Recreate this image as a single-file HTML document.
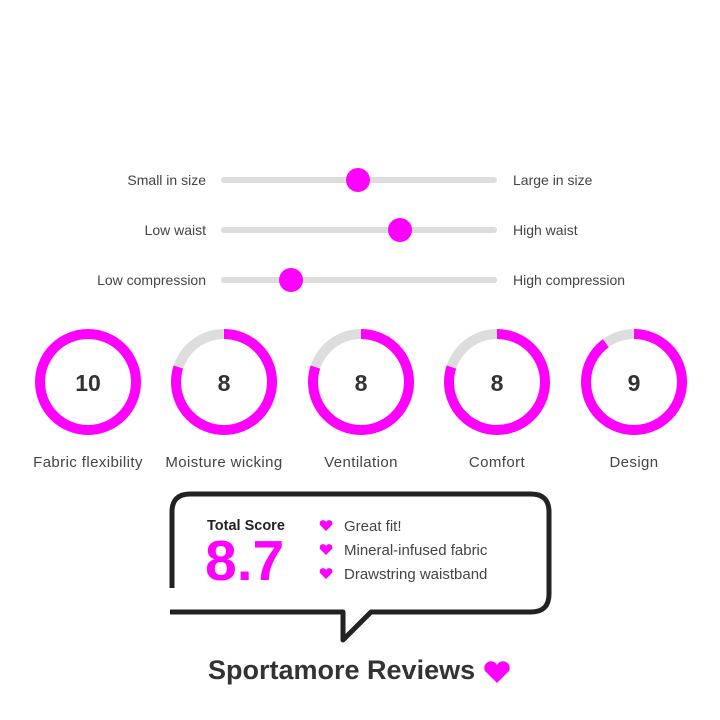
<!DOCTYPE html>
<html><head><style>
body{margin:0;width:720px;height:720px;background:#fff;font-family:"Liberation Sans",sans-serif;position:relative;overflow:hidden}
.t{position:absolute;font-size:14px;color:#444;white-space:nowrap}
.b{font-size:15px}
</style></head><body>
<svg width="720" height="720" style="position:absolute;left:0;top:0">
<g stroke-linecap="round">
<line x1="224" y1="180" x2="494" y2="180" stroke="#ddd" stroke-width="6"/>
<line x1="224" y1="230" x2="494" y2="230" stroke="#ddd" stroke-width="6"/>
<line x1="224" y1="280" x2="494" y2="280" stroke="#ddd" stroke-width="6"/>
</g>
<circle cx="358" cy="180" r="12" fill="#f0f"/>
<circle cx="400" cy="230" r="12" fill="#f0f"/>
<circle cx="291" cy="280" r="12" fill="#f0f"/>
<g fill="none" stroke-width="10" transform="rotate(-90)">
<circle cx="-382" cy="88" r="48" stroke="#f0f"/>
<circle cx="-382" cy="224" r="48" stroke="#ddd"/>
<circle cx="-382" cy="224" r="48" stroke="#f0f" stroke-dasharray="241 400"/>
<circle cx="-382" cy="361" r="48" stroke="#ddd"/>
<circle cx="-382" cy="361" r="48" stroke="#f0f" stroke-dasharray="241 400"/>
<circle cx="-382" cy="497" r="48" stroke="#ddd"/>
<circle cx="-382" cy="497" r="48" stroke="#f0f" stroke-dasharray="241 400"/>
<circle cx="-382" cy="634" r="48" stroke="#ddd"/>
<circle cx="-382" cy="634" r="48" stroke="#f0f" stroke-dasharray="271 400"/>
</g>
<g font-weight="bold" font-size="23" fill="#333" text-anchor="middle">
<text x="88" y="391">10</text><text x="224" y="391">8</text><text x="361" y="391">8</text><text x="497" y="391">8</text><text x="634" y="391">9</text>
</g>
<g font-size="15" fill="#444" text-anchor="middle" letter-spacing="0.4">
<text x="88" y="467">Fabric flexibility</text><text x="224" y="467">Moisture wicking</text><text x="361" y="467">Ventilation</text><text x="497" y="467">Comfort</text><text x="634" y="467">Design</text>
</g>
<path d="M172,588 V512 Q172,494 190,494 H531 Q549,494 549,512 V594 Q549,612 531,612 H371 L343,640 V612 H170" fill="none" stroke="#222" stroke-width="5" stroke-linejoin="round"/>
<g fill="#f0f">
<path d="M326,531 l-6,-6 a3.2,3.2 0 0 1 6,-3 a3.2,3.2 0 0 1 6,3 z"/>
<path d="M326,555 l-6,-6 a3.2,3.2 0 0 1 6,-3 a3.2,3.2 0 0 1 6,3 z"/>
<path d="M326,579 l-6,-6 a3.2,3.2 0 0 1 6,-3 a3.2,3.2 0 0 1 6,3 z"/>
<path d="M497,683 l-12,-12 a6.5,6.5 0 0 1 12,-6 a6.5,6.5 0 0 1 12,6 z"/>
</g>
</svg>
<div class="t" style="right:514px;top:172px">Small in size</div>
<div class="t" style="left:513px;top:172px">Large in size</div>
<div class="t" style="right:514px;top:222px">Low waist</div>
<div class="t" style="left:513px;top:222px">High waist</div>
<div class="t" style="right:514px;top:272px">Low compression</div>
<div class="t" style="left:513px;top:272px">High compression</div>
<div class="t" style="left:207px;top:518px;font-weight:bold;color:#222;font-size:14.5px">Total Score</div>
<div class="t" style="left:205px;top:528px;font-weight:bold;color:#f0f;font-size:57px">8.7</div>
<div class="t b" style="left:344px;top:518px">Great fit!</div>
<div class="t b" style="left:344px;top:542px">Mineral-infused fabric</div>
<div class="t b" style="left:344px;top:566px">Drawstring waistband</div>
<div class="t" style="left:208px;top:655px;font-weight:bold;color:#333;font-size:27px">Sportamore Reviews</div>
</body></html>
